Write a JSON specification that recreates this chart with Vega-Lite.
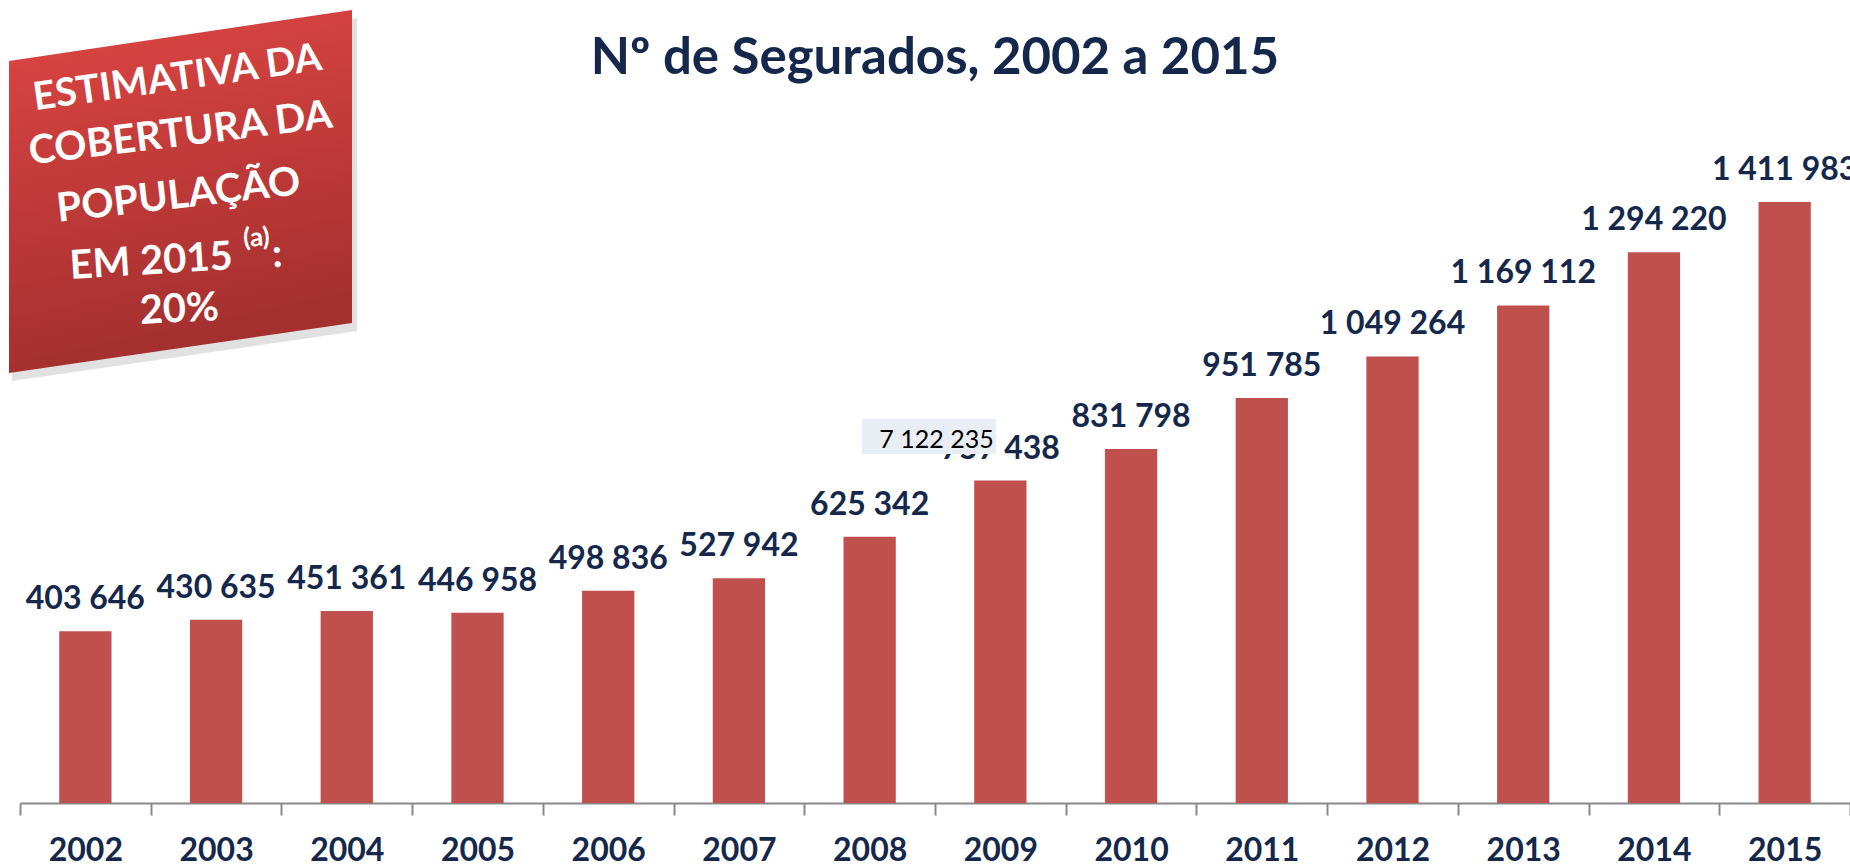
{
  "$schema": "https://vega.github.io/schema/vega-lite/v6.json",
  "width": 1830,
  "height": 793,
  "autosize": "none",
  "padding": {"left": 20, "top": 10, "right": 0, "bottom": 63},
  "background": "white",
  "config": {
    "view": {"stroke": null},
    "locale": {"number": {"decimal": ",", "thousands": " ", "grouping": [3], "currency": ["", " €"]}}
  },
  "title": {
    "text": "Nº de Segurados, 2002 a 2015",
    "font": "Lato",
    "fontSize": 51,
    "fontWeight": "bold",
    "color": "#15284b",
    "anchor": "middle",
    "baseline": "alphabetic",
    "frame": "group",
    "offset": -115
  },
  "datasets": {
    "seg": [
      {"year": "2002", "value": 403646},
      {"year": "2003", "value": 430635},
      {"year": "2004", "value": 451361},
      {"year": "2005", "value": 446958},
      {"year": "2006", "value": 498836},
      {"year": "2007", "value": 527942},
      {"year": "2008", "value": 625342},
      {"year": "2009", "value": 757438},
      {"year": "2010", "value": 831798},
      {"year": "2011", "value": 951785},
      {"year": "2012", "value": 1049264},
      {"year": "2013", "value": 1169112},
      {"year": "2014", "value": 1294220},
      {"year": "2015", "value": 1411983}
    ],
    "box": [
      {"u": -0.0842, "top": 1743250, "bottom": 1010240},
      {"u": 2.5399, "top": 1863070, "bottom": 1127710}
    ],
    "shadow": [
      {"u": -0.0612, "top": 1724460, "bottom": 991450},
      {"u": 2.5781, "top": 1844280, "bottom": 1108920}
    ]
  },
  "resolve": {"scale": {"x": "independent"}},
  "layer": [
    {
      "data": {"name": "seg"},
      "encoding": {
        "x": {
          "field": "year",
          "type": "ordinal",
          "scale": {"paddingInner": 0, "paddingOuter": 0},
          "axis": {
            "title": null,
            "tickBand": "extent",
            "domainColor": "#898989",
            "domainWidth": 2,
            "tickColor": "#898989",
            "tickWidth": 2,
            "tickSize": 12,
            "labelFont": "Lato",
            "labelFontSize": 32,
            "labelFontWeight": "bold",
            "labelColor": "#15284b",
            "labelBaseline": "alphabetic",
            "labelPadding": 45,
            "labelAngle": 0
          }
        },
        "y": {
          "field": "value",
          "type": "quantitative",
          "scale": {"domain": [0, 1863070], "nice": false, "zero": true},
          "axis": null
        }
      },
      "layer": [
        {"mark": {"type": "bar", "color": "#c0504d", "width": {"band": 0.4}}},
        {
          "mark": {"type": "text", "font": "Lato", "fontSize": 32, "fontWeight": "bold", "color": "#15284b", "baseline": "alphabetic", "align": "center", "dy": -22},
          "encoding": {"text": {"field": "value", "type": "quantitative", "format": ",d"}}
        }
      ]
    },
    {
      "layer": [
        {
          "data": {"name": "shadow"},
          "mark": {"type": "area", "color": "#888888", "opacity": 0.25},
          "encoding": {
            "x": {"field": "u", "type": "quantitative", "scale": {"domain": [0, 14], "nice": false, "zero": false}, "axis": null},
            "y": {"field": "top", "type": "quantitative", "scale": {"domain": [0, 1863070], "nice": false}},
            "y2": {"field": "bottom"}
          }
        },
        {
          "data": {"name": "box"},
          "mark": {"type": "area", "fill": {"gradient": "linear", "x1": 0, "y1": 0, "x2": 0.2, "y2": 1, "stops": [{"offset": 0, "color": "#de4643"}, {"offset": 1, "color": "#a32f2f"}]}},
          "encoding": {
            "x": {"field": "u", "type": "quantitative", "scale": {"domain": [0, 14], "nice": false, "zero": false}, "axis": null},
            "y": {"field": "top", "type": "quantitative", "scale": {"domain": [0, 1863070], "nice": false}},
            "y2": {"field": "bottom"}
          }
        },
        {
          "data": {"values": [{"u": 1.2164, "v": 1675120, "t": "ESTIMATIVA DA"}]},
          "mark": {"type": "text", "font": "Lato", "fontSize": 39, "fontWeight": "bold", "color": "white", "align": "center", "baseline": "alphabetic", "angle": -8},
          "encoding": {
            "x": {"field": "u", "type": "quantitative", "scale": {"domain": [0, 14], "nice": false, "zero": false}, "axis": null},
            "y": {"field": "v", "type": "quantitative", "scale": {"domain": [0, 1863070], "nice": false}},
            "text": {"field": "t"}
          }
        },
        {
          "data": {"values": [{"u": 1.2394, "v": 1543560, "t": "COBERTURA DA"}]},
          "mark": {"type": "text", "font": "Lato", "fontSize": 40, "fontWeight": "bold", "color": "white", "align": "center", "baseline": "alphabetic", "angle": -7},
          "encoding": {
            "x": {"field": "u", "type": "quantitative", "scale": {"domain": [0, 14], "nice": false, "zero": false}, "axis": null},
            "y": {"field": "v", "type": "quantitative", "scale": {"domain": [0, 1863070], "nice": false}},
            "text": {"field": "t"}
          }
        },
        {
          "data": {"values": [{"u": 1.224, "v": 1397890, "t": "POPULAÇÃO"}]},
          "mark": {"type": "text", "font": "Lato", "fontSize": 40, "fontWeight": "bold", "color": "white", "align": "center", "baseline": "alphabetic", "angle": -6.5},
          "encoding": {
            "x": {"field": "u", "type": "quantitative", "scale": {"domain": [0, 14], "nice": false, "zero": false}, "axis": null},
            "y": {"field": "v", "type": "quantitative", "scale": {"domain": [0, 1863070], "nice": false}},
            "text": {"field": "t"}
          }
        },
        {
          "data": {"values": [{"u": 1.0098, "v": 1242830, "t": "EM 2015"}, {"u": 1.9738, "v": 1259280, "t": ":"}]},
          "mark": {"type": "text", "font": "Lato", "fontSize": 40, "fontWeight": "bold", "color": "white", "align": "center", "baseline": "alphabetic", "angle": -3.5},
          "encoding": {
            "x": {"field": "u", "type": "quantitative", "scale": {"domain": [0, 14], "nice": false, "zero": false}, "axis": null},
            "y": {"field": "v", "type": "quantitative", "scale": {"domain": [0, 1863070], "nice": false}},
            "text": {"field": "t"}
          }
        },
        {
          "data": {"values": [{"u": 1.8131, "v": 1308600, "t": "(a)"}]},
          "mark": {"type": "text", "font": "Lato", "fontSize": 26, "fontWeight": "bold", "color": "white", "align": "center", "baseline": "alphabetic", "angle": -3.5},
          "encoding": {
            "x": {"field": "u", "type": "quantitative", "scale": {"domain": [0, 14], "nice": false, "zero": false}, "axis": null},
            "y": {"field": "v", "type": "quantitative", "scale": {"domain": [0, 1863070], "nice": false}},
            "text": {"field": "t"}
          }
        },
        {
          "data": {"values": [{"u": 1.224, "v": 1130060, "t": "20%"}]},
          "mark": {"type": "text", "font": "Lato", "fontSize": 40, "fontWeight": "bold", "color": "white", "align": "center", "baseline": "alphabetic", "angle": -3},
          "encoding": {
            "x": {"field": "u", "type": "quantitative", "scale": {"domain": [0, 14], "nice": false, "zero": false}, "axis": null},
            "y": {"field": "v", "type": "quantitative", "scale": {"domain": [0, 1863070], "nice": false}},
            "text": {"field": "t"}
          }
        },
        {
          "data": {"values": [{"u1": 6.4416, "u2": 7.4667, "v1": 902170, "v2": 819940}]},
          "mark": {"type": "rect", "color": "#e9eef4"},
          "encoding": {
            "x": {"field": "u1", "type": "quantitative", "scale": {"domain": [0, 14], "nice": false, "zero": false}, "axis": null},
            "x2": {"field": "u2"},
            "y": {"field": "v1", "type": "quantitative", "scale": {"domain": [0, 1863070], "nice": false}},
            "y2": {"field": "v2"}
          }
        },
        {
          "data": {"values": [{"u": 7.0114, "v": 834040, "n": 7122235}]},
          "mark": {"type": "text", "font": "Lato", "fontSize": 25, "color": "black", "align": "center", "baseline": "alphabetic"},
          "encoding": {
            "x": {"field": "u", "type": "quantitative", "scale": {"domain": [0, 14], "nice": false, "zero": false}, "axis": null},
            "y": {"field": "v", "type": "quantitative", "scale": {"domain": [0, 1863070], "nice": false}},
            "text": {"field": "n", "type": "quantitative", "format": ",d"}
          }
        }
      ]
    }
  ]
}
